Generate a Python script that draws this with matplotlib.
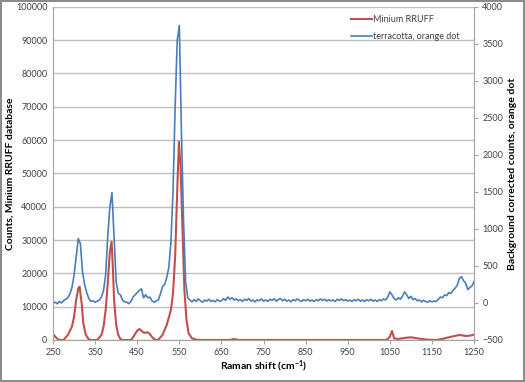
import numpy as np
import matplotlib
matplotlib.use("Agg")
import matplotlib.pyplot as plt

plt.rcParams['font.family'] = ['Lato', 'DejaVu Sans']
plt.rcParams['mathtext.default'] = 'regular'

# Minium reference spectrum (RRUFF), left axis
red_shift = [250, 255, 260, 265, 275, 285, 295, 300, 305, 310, 313, 318, 322, 328, 335, 340,
             355, 365, 370, 375, 380, 385, 389, 392, 395, 400, 405, 410, 415, 435, 440, 445,
             450, 455, 460, 465, 470, 475, 480, 485, 490, 495, 500, 510, 520, 530, 535, 540,
             545, 549, 553, 557, 562, 567, 572, 580, 590, 600, 670, 680, 690, 1040, 1045, 1050,
             1055, 1060, 1070, 1080, 1090, 1100, 1110, 1120, 1140, 1160, 1170, 1180, 1190, 1200,
             1215, 1230, 1240, 1250]
red_counts = [1800, 1000, 400, 0, 0, 1500, 4000, 7000, 12000, 15500, 16000, 11000, 5000, 1500, 200, 0,
              0, 1500, 4000, 9000, 17000, 26500, 29500, 22000, 12000, 4500, 1500, 300, 0, 0, 800, 1800,
              2800, 3300, 2800, 2200, 2200, 2300, 1800, 900, 300, 0, 100, 1500, 4500, 9000, 14000, 25000,
              45000, 59500, 52000, 35000, 15000, 6000, 2000, 500, 100, 0, 0, 300, 0, 0, 300, 1000,
              2700, 500, 300, 500, 700, 800, 600, 400, 100, 0, 200, 500, 800, 1100,
              1500, 1200, 1300, 1600]

# terracotta orange dot, background corrected, right axis (5 cm-1 steps)
blue_shift = np.arange(250, 1255, 5)
blue_counts = [
    -5, 10, -10, 20, 0, 30, 50, 70, 120, 210,
    380, 620, 870, 800, 420, 250, 140, 60, 20, 30,
    10, 25, 40, 80, 170, 380, 900, 1300, 1490, 900,
    280, 130, 110, 40, 15, 10, -10, 20, 80, 110,
    140, 170, 190, 70, 110, 70, 80, 30, 10, 30,
    40, 120, 220, 250, 340, 480, 820, 1500, 2650, 3550,
    3750, 2300, 1100, 280, 70,
    40, 15, 45, 20, 55, 30, 10, 40, 25, 50,
    20, 35, 15, 45, 25, 30, 60, 35, 80, 50,
    70, 40, 55, 30, 45, 20, 50, 35, 60, 25,
    40, 15, 45, 30, 55, 25, 40, 20, 50, 35,
    55, 25, 45, 60, 30, 50, 25, 40, 15, 45,
    30, 55, 35, 20, 45, 30, 50, 25, 40, 20,
    45, 30, 55, 35, 50, 25, 45, 30, 40, 20,
    50, 35, 55, 30, 45, 25, 40, 20, 45, 30,
    50, 25, 40, 20, 45, 30, 50, 25, 40, 20,
    45, 30, 55, 40,
    80, 150, 110, 60, 40, 70, 50, 90, 150, 110,
    60, 90, 45, 60, 30, 40, 15, 35, 20, 10,
    30, 15, 25, 20, 50, 80, 70, 110, 100, 140,
    130, 170, 200, 240, 330, 355, 300, 270, 180, 210,
    230, 290]
assert len(blue_counts) == len(blue_shift)

left_ticks = list(range(0, 100001, 10000))
right_ticks = list(range(-500, 4001, 500))
x_ticks = list(range(250, 1251, 100))

red = '#C0504D'
blue = '#4A7EBB'
grid = '#BFBFBF'
axis_col = '#A6A6A6'

fig = plt.figure(figsize=(5.25, 3.82), dpi=100)
fig.patch.set_edgecolor('#8C8C8C')
fig.patch.set_linewidth(1.5)
ax = fig.add_axes([0.101, 0.110, 0.802, 0.872])
ax2 = ax.twinx()

ln1, = ax.plot(red_shift, red_counts, color=red, lw=1.5, label='Minium RRUFF')
ln2, = ax2.plot(blue_shift, blue_counts, color=blue, lw=1.2, label='terracotta, orange dot')

ax.set_xlim(250, 1250)
ax.set_ylim(0, 100000)
ax2.set_ylim(-500, 4000)
ax.set_xticks(x_ticks)
ax.set_yticks(left_ticks)
ax2.set_yticks(right_ticks)
ax.yaxis.grid(True, color=grid, lw=1)
ax.set_axisbelow(True)

for a in (ax, ax2):
    for s in a.spines.values():
        s.set_color(axis_col)
    a.spines['top'].set_visible(False)
    a.tick_params(labelsize=6.5, labelcolor='#404040', length=3, width=0.8, color=axis_col, pad=3)
ax.tick_params(axis='y', length=0, pad=4)

ax.set_xlabel('Raman shift (cm$^{-1}$)', fontsize=7.5, fontweight='bold')
ax.xaxis.set_label_coords(0.5, -0.055)
ax.set_ylabel('Counts, Minium RRUFF database', fontsize=7.5, fontweight='bold')
ax.yaxis.set_label_coords(-0.092, 0.5)
ax2.set_ylabel('Background corrected counts, orange dot', fontsize=7.5, fontweight='bold')
ax2.yaxis.set_label_coords(1.08, 0.5)

leg = ax2.legend(handles=[ln1, ln2], loc='upper right', bbox_to_anchor=(0.985, 1.0),
                 frameon=False, fontsize=6.5, handlelength=2.3, handletextpad=0.1,
                 labelspacing=0.9)
for t in leg.get_texts():
    t.set_color('#404040')

fig.savefig('out.png', dpi=100, edgecolor=fig.get_edgecolor())
